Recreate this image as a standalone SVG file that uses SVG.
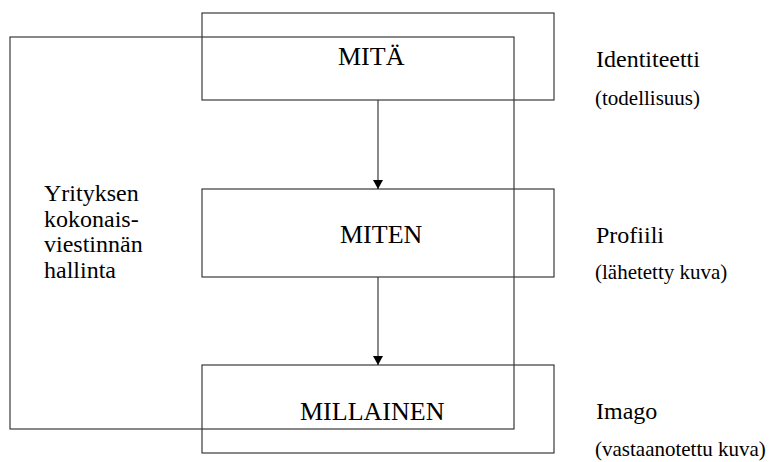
<svg xmlns="http://www.w3.org/2000/svg" width="770" height="462" viewBox="0 0 770 462">
<style>
.box{fill:none;stroke:#3a3a3a;stroke-width:1.2}
.edge{fill:none;stroke:#3a3a3a;stroke-width:1.2}
text{font-family:'Liberation Serif',serif;fill:#000}
.big{font-size:26px}
.mid{font-size:24px}
.sm{font-size:21px}
</style>
<defs>
<marker id="ah" markerWidth="10" markerHeight="10" refX="9" refY="5" orient="auto" markerUnits="userSpaceOnUse">
<path d="M0,0 L9,5 L0,10 Z" fill="#000"/>
</marker>
</defs>
<rect width="770" height="462" fill="#fff"/>
<g id="outer">
<rect class="box" x="10" y="37" width="504" height="392"/>
<text class="mid" x="44" y="201">Yrityksen</text>
<text class="mid" x="44" y="227">kokonais-</text>
<text class="mid" x="44" y="252">viestinnän</text>
<text class="mid" x="44" y="278">hallinta</text>
</g>
<g id="mita">
<rect class="box" x="202" y="13" width="352" height="87"/>
<text class="big" x="338" y="65">MITÄ</text>
</g>
<g id="miten">
<rect class="box" x="202" y="189" width="352" height="88"/>
<text class="big" x="340" y="243">MITEN</text>
</g>
<g id="millainen">
<rect class="box" x="202" y="365" width="352" height="88"/>
<text class="big" x="300" y="420">MILLAINEN</text>
</g>
<g id="identiteetti">
<text class="mid" x="596" y="67">Identiteetti</text>
<text class="sm" x="595" y="105">(todellisuus)</text>
</g>
<g id="profiili">
<text class="mid" x="596" y="243">Profiili</text>
<text class="sm" x="595" y="279">(lähetetty kuva)</text>
</g>
<g id="imago">
<text class="mid" x="596" y="419">Imago</text>
<text class="sm" x="595" y="456">(vastaanotettu kuva)</text>
</g>
<g id="connectors">
<line class="edge" x1="378" y1="100" x2="378" y2="189" marker-end="url(#ah)"/>
<line class="edge" x1="378" y1="277" x2="378" y2="365" marker-end="url(#ah)"/>
</g>
</svg>
